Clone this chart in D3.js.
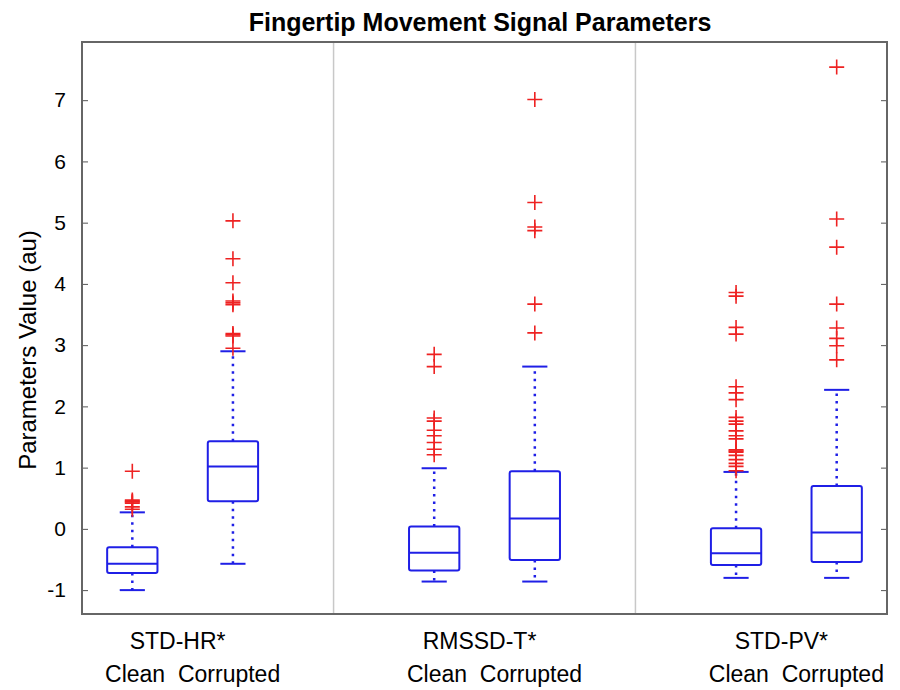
<!DOCTYPE html>
<html>
<head>
<meta charset="utf-8">
<script src="https://cdn.jsdelivr.net/npm/d3@7"></script>
<style>
  body { margin: 0; background: #fff; }
  text { font-family: "Liberation Sans", Arial, sans-serif; fill: #000; }
</style>
</head>
<body>
<div id="vis"></div>
<script>
// frame and margins
const FRAME_WIDTH = 900;
const FRAME_HEIGHT = 690;
const MARGINS = {left: 82, right: 13, top: 42, bottom: 76};

// data
const PARAMS = ["STD-HR*", "RMSSD-T*", "STD-PV*"];
const CONDITIONS = ["Clean", "Corrupted"];
const Y_TICKS = [-1, 0, 1, 2, 3, 4, 5, 6, 7];

// one entry per box: clean/corrupted for each parameter
const LOW_WHISKER = [-1.0, -0.57, -0.86, -0.86, -0.80, -0.80];
const Q1 = [-0.72, 0.45, -0.68, -0.51, -0.59, -0.54];
const MEDIAN = [-0.57, 1.02, -0.39, 0.17, -0.40, -0.06];
const Q3 = [-0.30, 1.43, 0.04, 0.94, 0.01, 0.70];
const HIGH_WHISKER = [0.27, 2.90, 0.99, 2.65, 0.93, 2.27];
const OUTLIERS = [
  [0.32, 0.36, 0.42, 0.44, 0.45, 0.47, 0.94],
  [2.95, 3.15, 3.17, 3.19, 3.66, 3.69, 3.72, 4.02, 4.41, 5.03],
  [1.21, 1.30, 1.41, 1.52, 1.61, 1.76, 1.81, 2.65, 2.85],
  [3.20, 3.67, 4.87, 4.93, 5.33, 7.01],
  [0.95, 1.02, 1.07, 1.13, 1.20, 1.25, 1.27, 1.29, 1.47, 1.52, 1.60, 1.71, 1.76, 1.82, 2.11, 2.22, 2.32, 3.18, 3.29, 3.80, 3.86],
  [2.76, 2.99, 3.11, 3.28, 3.67, 4.60, 5.06, 7.54]
];

const BOXES = Q1.map((q, i) => ({
  group: Math.floor(i / 2),
  cond: i % 2,
  lo: LOW_WHISKER[i], q1: q, med: MEDIAN[i], q3: Q3[i], hi: HIGH_WHISKER[i],
  out: OUTLIERS[i]
}));

const VIS_WIDTH = FRAME_WIDTH - MARGINS.left - MARGINS.right;
const VIS_HEIGHT = FRAME_HEIGHT - MARGINS.top - MARGINS.bottom;

const BLUE = "#1f1fe6";
const RED = "#ee2222";

// x in box-slot units: each parameter gets 3 slots (2 boxes + separator)
const X = d3.scaleLinear().domain([0.5, 8.5]).range([MARGINS.left, MARGINS.left + VIS_WIDTH]);
const Y = d3.scaleLinear().domain([-1.39, 7.95]).range([MARGINS.top + VIS_HEIGHT, MARGINS.top]);

const slot = (d) => d.group * 3 + d.cond + 1;
const BOX_W = X(1.25) - X(1);     // half box width
const CAP_W = X(1.125) - X(1);    // half cap width

const svg = d3.select("#vis")
  .append("svg")
    .attr("width", FRAME_WIDTH)
    .attr("height", FRAME_HEIGHT);

// group separators
svg.selectAll(".sep")
  .data(d3.range(1, PARAMS.length))
  .enter()
  .append("line")
    .attr("x1", (g) => X(g * 3))
    .attr("x2", (g) => X(g * 3))
    .attr("y1", MARGINS.top)
    .attr("y2", MARGINS.top + VIS_HEIGHT)
    .attr("stroke", "#c8c8c8")
    .attr("stroke-width", 1.5);

// y axis on left + mirrored ticks on right
svg.append("g")
  .attr("transform", "translate(" + MARGINS.left + ",0)")
  .call(d3.axisLeft(Y).tickValues(Y_TICKS).tickSize(-6).tickPadding(16).tickFormat((d) => String(d)))
  .call((g) => g.select(".domain").remove())
  .call((g) => g.selectAll("line").attr("stroke", "#555"))
  .call((g) => g.selectAll("text")
      .attr("font-size", "21px")
      .attr("font-family", "Liberation Sans, Arial, sans-serif"));

svg.append("g")
  .attr("transform", "translate(" + (MARGINS.left + VIS_WIDTH) + ",0)")
  .call(d3.axisRight(Y).tickValues(Y_TICKS).tickSize(-6).tickFormat(""))
  .call((g) => g.select(".domain").remove())
  .call((g) => g.selectAll("line").attr("stroke", "#555"));

// plot frame
svg.append("rect")
  .attr("x", MARGINS.left)
  .attr("y", MARGINS.top)
  .attr("width", VIS_WIDTH)
  .attr("height", VIS_HEIGHT)
  .attr("fill", "none")
  .attr("stroke", "#666")
  .attr("stroke-width", 2);

const box = svg.selectAll(".box")
  .data(BOXES)
  .enter()
  .append("g")
    .attr("class", "box");

// dashed whiskers
box.append("line")
  .attr("x1", (d) => X(slot(d))).attr("x2", (d) => X(slot(d)))
  .attr("y1", (d) => Y(d.q3)).attr("y2", (d) => Y(d.hi))
  .attr("stroke", BLUE).attr("stroke-width", 2.5).attr("stroke-dasharray", "2.5,5");
box.append("line")
  .attr("x1", (d) => X(slot(d))).attr("x2", (d) => X(slot(d)))
  .attr("y1", (d) => Y(d.q1)).attr("y2", (d) => Y(d.lo))
  .attr("stroke", BLUE).attr("stroke-width", 2.5).attr("stroke-dasharray", "2.5,5");

// whisker caps
["hi", "lo"].forEach((k) => {
  box.append("line")
    .attr("x1", (d) => X(slot(d)) - CAP_W).attr("x2", (d) => X(slot(d)) + CAP_W)
    .attr("y1", (d) => Y(d[k])).attr("y2", (d) => Y(d[k]))
    .attr("stroke", BLUE).attr("stroke-width", 2);
});

// box
box.append("rect")
  .attr("x", (d) => X(slot(d)) - BOX_W)
  .attr("y", (d) => Y(d.q3))
  .attr("width", BOX_W * 2)
  .attr("height", (d) => Y(d.q1) - Y(d.q3))
  .attr("rx", 2)
  .attr("fill", "none")
  .attr("stroke", BLUE)
  .attr("stroke-width", 2);

// median
box.append("line")
  .attr("x1", (d) => X(slot(d)) - BOX_W).attr("x2", (d) => X(slot(d)) + BOX_W)
  .attr("y1", (d) => Y(d.med)).attr("y2", (d) => Y(d.med))
  .attr("stroke", BLUE).attr("stroke-width", 2);

// outliers as red plus signs
box.selectAll(".out")
  .data((d) => d.out.map((v) => ({x: slot(d), v: v})))
  .enter()
  .append("path")
    .attr("d", (o) => {
      const cx = X(o.x), cy = Y(o.v), r = 7.5;
      return "M" + (cx - r) + "," + cy + "H" + (cx + r) + "M" + cx + "," + (cy - r) + "V" + (cy + r);
    })
    .attr("stroke", RED)
    .attr("stroke-width", 1.6)
    .attr("fill", "none");

// title
svg.append("text")
  .attr("x", 480)
  .attr("y", 31)
  .attr("text-anchor", "middle")
  .attr("font-size", "25px")
  .attr("font-weight", "bold")
  .text("Fingertip Movement Signal Parameters");

// y label
svg.append("text")
  .attr("transform", "translate(36,350) rotate(-90)")
  .attr("text-anchor", "middle")
  .attr("font-size", "24px")
  .text("Parameters Value (au)");

// x labels: parameter name and conditions
svg.selectAll(".param")
  .data(PARAMS)
  .enter()
  .append("text")
    .attr("x", (p, g) => X(g * 3 + 1.5) - 5)
    .attr("y", 649)
    .attr("text-anchor", "middle")
    .attr("font-size", "23px")
    .text((p) => p);

svg.selectAll(".cond")
  .data(PARAMS)
  .enter()
  .append("text")
    .attr("x", (p, g) => X(g * 3 + 1.5) + 10)
    .attr("y", 682)
    .attr("text-anchor", "middle")
    .attr("font-size", "23px")
    .attr("xml:space", "preserve")
    .text(CONDITIONS.join("  "));
</script>
</body>
</html>
